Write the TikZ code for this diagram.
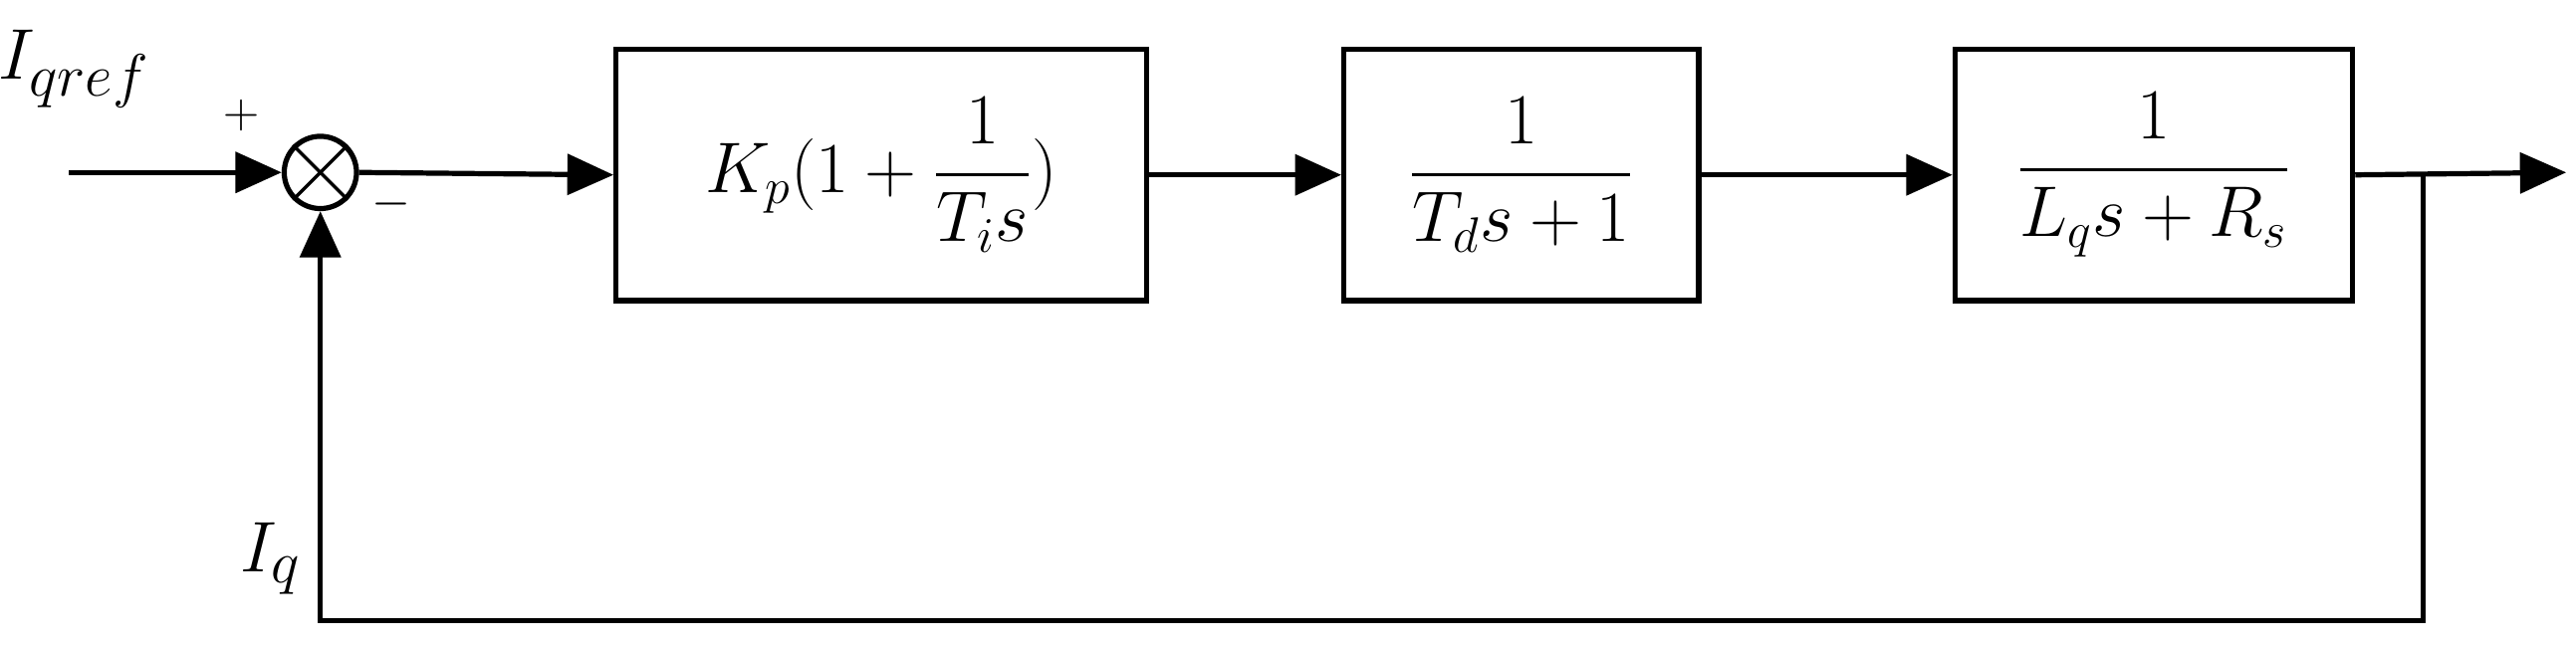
\documentclass[tikz,border=0pt]{standalone}
\usepackage{amsmath}
\usetikzlibrary{arrows.meta}
\begin{document}
\begin{tikzpicture}[x=0.02cm,y=-0.02cm,line width=1.8pt,
  blk/.style={draw,minimum width=#1*0.02cm,minimum height=153*0.02cm,inner sep=0pt,font=\fontsize{26}{30}\selectfont},
  arr/.style={-{Triangle[length=16pt,width=14pt]}},
  lbl/.style={font=\fontsize{28}{32}\selectfont}]
\useasboundingbox (0,0) rectangle (1568,395);
\coordinate (in) at (42,105);
\node[draw,circle,minimum size=44*0.02cm,inner sep=0pt] (sum) at (195,105) {};
\draw[line width=1.2pt] (sum.north west)--(sum.south east) (sum.north east)--(sum.south west);
\node[blk=323] (b1) at (536.5,106.5) {$K_p(1+\dfrac{1}{T_i s})$};
\node[blk=216] (b2) at (926,106.5) {$\dfrac{1}{T_d s+1}$};
\node[blk=242] (b3) at (1311,106.5) {$\dfrac{1}{L_q s+R_s}$};
\coordinate (out) at (1562,105);
\coordinate (br) at (1475,105);
\coordinate (c1) at (1475,378);
\coordinate (c2) at (195,378);
\draw[arr] (in)--(sum.west);
\draw[arr] (sum.east)--(b1.west);
\draw[arr] (b1.east)--(b2.west);
\draw[arr] (b2.east)--(b3.west);
\draw[arr] (b3.east)--(out);
\draw[arr] (br)--(c1)--(c2)--(sum.south);
\node[lbl] (t1) at (45,42) {$I_{qref}$};
\node[font=\fontsize{18}{20}\selectfont] (t2) at (147,70) {$+$};
\node[font=\fontsize{18}{20}\selectfont] (t3) at (238,124) {$-$};
\node[lbl] (t4) at (165,340) {$I_q$};
\end{tikzpicture}
\end{document}
